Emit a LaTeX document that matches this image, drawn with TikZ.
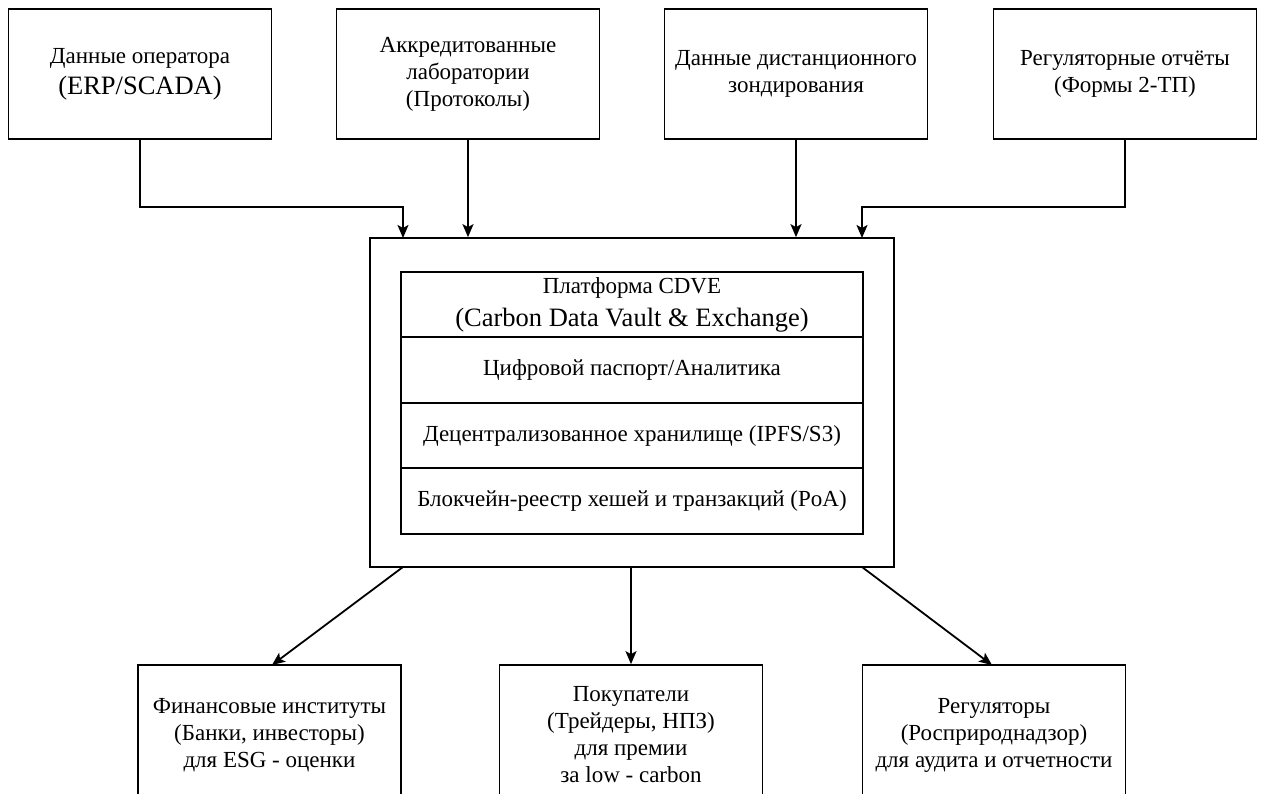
\documentclass[tikz,border=0pt]{standalone}
\usepackage{fontspec}
\setmainfont{Liberation Serif}
\usetikzlibrary{arrows.meta,calc}
\newcommand{\bigtxt}{\fontsize{26.5}{30}\selectfont}
\begin{document}
\begin{tikzpicture}[x=1pt,y=-1pt,
  box/.style={draw, line width=1.7pt, rectangle, align=center, inner sep=0pt,
    font=\fontsize{23}{27}\selectfont},
  topbox/.style={box, minimum width=263pt, minimum height=130pt},
  botbox/.style={box, minimum width=263pt, minimum height=140pt},
  layer/.style={box, minimum width=462pt, minimum height=65.5pt},
  arr/.style={line width=1.8pt, -{Stealth[length=13pt,width=11pt,inset=3pt]}}
]
\useasboundingbox (0,0) rectangle (1262,794);
\fill[white] (0,0) rectangle (1262,794);
\clip (0,0) rectangle (1262,794);

% top sources
\node[topbox] (t1) at (140,74) {Данные оператора\\[4pt]{\bigtxt (ERP/SCADA)}};
\node[topbox] (t2) at (468,74) {Аккредитованные\\лаборатории\\(Протоколы)};
\node[topbox] (t3) at (796,74) {Данные дистанционного\\зондирования};
\node[topbox] (t4) at (1125,74) {Регуляторные отчёты\\(Формы 2-ТП)};

% platform
\node[box, minimum width=524pt, minimum height=329pt] (main) at (632,402.5) {};
\node[layer] (l1) at (632,304.5) {Платформа CDVE\\[6pt]{\bigtxt (Carbon Data Vault \& Exchange)}};
\node[layer] (l2) at (632,370) {Цифровой паспорт/Аналитика};
\node[layer] (l3) at (632,435.5) {Децентрализованное хранилище (IPFS/S3)};
\node[layer] (l4) at (632,501) {Блокчейн-реестр хешей и транзакций (PoA)};

% consumers
\node[botbox] (b1) at (269.5,735) {Финансовые институты\\(Банки, инвесторы)\\для ESG - оценки};
\node[botbox] (b2) at (631,735) {Покупатели\\(Трейдеры, НПЗ)\\для премии\\за low - carbon};
\node[botbox] (b3) at (994,735) {Регуляторы\\(Росприроднадзор)\\для аудита и отчетности};

% connection points on the platform
\coordinate (in1) at (403,238);
\coordinate (in4) at (862,238);
\coordinate (o1) at (403,567);
\coordinate (o3) at (862,567);
\coordinate (e1) at (272,665);
\coordinate (e3) at (992,665);

\draw[arr] (t1.south) -- ++(0,67) -| (in1);
\draw[arr] (t2.south) -- (t2.south |- main.north);
\draw[arr] (t3.south) -- (t3.south |- main.north);
\draw[arr] (t4.south) -- ++(0,67) -| (in4);

\draw[arr] (o1) -- (e1);
\draw[arr] (main.south -| b2.north) -- (b2.north);
\draw[arr] (o3) -- (e3);
\end{tikzpicture}
\end{document}
